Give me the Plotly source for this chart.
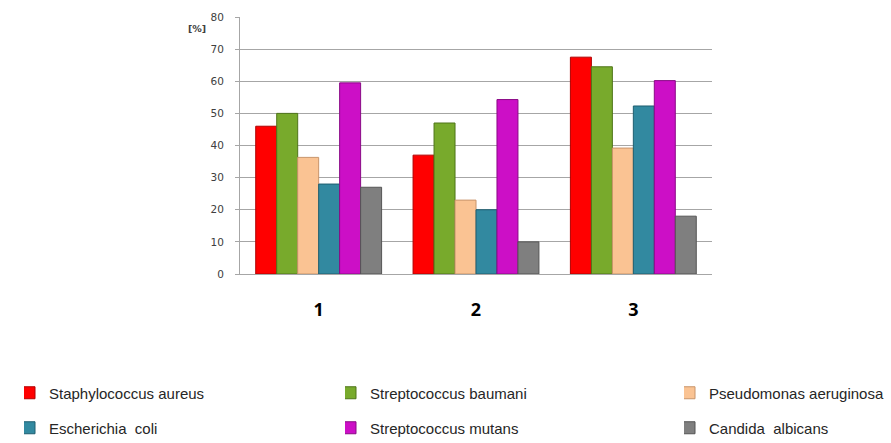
import plotly.graph_objects as go

# Groups on the x axis and share (%) per organism
groups = ["1", "2", "3"]
organisms = [
    "Staphylococcus aureus",
    "Streptococcus baumani",
    "Pseudomonas aeruginosa",
    "Escherichia  coli",
    "Streptococcus mutans",
    "Candida  albicans",
]
staph_aureus = [46, 37, 67.5]
strep_baumani = [50, 47, 64.5]
pseudomonas = [36.3, 23, 39.2]
e_coli = [28, 20, 52.3]
strep_mutans = [59.5, 54.3, 60.2]
candida = [27, 10, 18]

y_ticks = [0, 10, 20, 30, 40, 50, 60, 70, 80]

series = [staph_aureus, strep_baumani, pseudomonas, e_coli, strep_mutans, candida]
fills = ["#FF0000", "#78AA2C", "#FAC393", "#3289A0", "#CC0FC6", "#7F7F7F"]
edges = ["#B00000", "#4E7418", "#C8946A", "#1E5E70", "#8A0A86", "#555555"]

# plot area in pixels
W, H = 891, 443
PLOT_L, PLOT_R, PLOT_T, PLOT_B = 240, 712, 17, 274
plot_w, plot_h = PLOT_R - PLOT_L, PLOT_B - PLOT_T

# legend grid: three columns, two rows, one legend box per entry
legend_cols_px = [24, 345, 684]
legend_rows_px = [393, 428]

fig = go.Figure()
legend_layouts = {}
for i, (name, vals, fc, ec) in enumerate(zip(organisms, series, fills, edges)):
    lid = "legend" if i == 0 else f"legend{i + 1}"
    fig.add_trace(go.Bar(
        x=groups, y=vals, name=name,
        marker=dict(color=fc, line=dict(color=ec, width=1)),
        legend=lid, showlegend=True,
    ))
    col, row = i % 3, i // 3
    legend_layouts[lid] = dict(
        orientation="h", xanchor="left", yanchor="middle",
        x=(legend_cols_px[col] - PLOT_L) / plot_w,
        y=(PLOT_B - legend_rows_px[row]) / plot_h,
        indentation=-15, bgcolor="rgba(0,0,0,0)",
        font=dict(family="Liberation Sans, Arial, sans-serif", size=15, color="#262626"),
    )

fig.update_layout(
    width=W, height=H, showlegend=True,
    margin=dict(l=PLOT_L, r=W - PLOT_R, t=PLOT_T, b=H - PLOT_B, autoexpand=False),
    paper_bgcolor="white", plot_bgcolor="white",
    barmode="group", bargap=0.2, bargroupgap=0,
    xaxis=dict(
        type="category", showgrid=False, showline=True, linecolor="#A6A6A6",
        ticks="", ticklabelstandoff=19,
        tickfont=dict(family="Open Sans, sans-serif", size=18, color="#000000", weight="bold"),
    ),
    yaxis=dict(
        range=[0, 80], tickvals=y_ticks, showgrid=True, gridcolor="#A6A6A6", gridwidth=1,
        showline=True, linecolor="#A6A6A6", ticks="outside", ticklen=4, tickcolor="#A6A6A6",
        zeroline=False, ticklabelstandoff=9,
        tickfont=dict(family="DejaVu Sans, sans-serif", size=10.5, color="#404040"),
    ),
    annotations=[dict(
        text="<b>[%]</b>", xref="paper", yref="paper", x=-0.091, y=0.955,
        xanchor="center", yanchor="middle", showarrow=False,
        font=dict(family="DejaVu Sans, sans-serif", size=9.5, color="#404040"),
    )],
    **legend_layouts,
)

fig.write_html("out.html")
